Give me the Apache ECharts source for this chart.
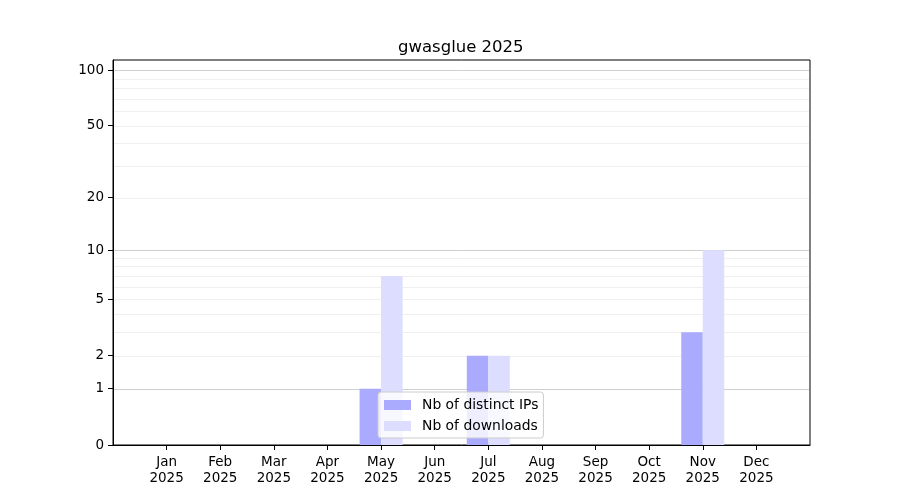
<!DOCTYPE html>
<html>
<head>
<meta charset="UTF-8">
<title>gwasglue 2025</title>
<script src="https://cdn.jsdelivr.net/npm/echarts@6/dist/echarts.min.js"></script>
<style>
  html, body { margin: 0; padding: 0; background: #fff; }
  #main { width: 900px; height: 500px; }
</style>
</head>
<body>
<div id="main"></div>
<script>
// data
var months = ['Jan', 'Feb', 'Mar', 'Apr', 'May', 'Jun', 'Jul', 'Aug', 'Sep', 'Oct', 'Nov', 'Dec'];
var year = '2025';
var distinctIPs = [0, 0, 0, 0, 1, 0, 2, 0, 0, 0, 3, 0];
var downloads = [0, 0, 0, 0, 7, 0, 2, 0, 0, 0, 10, 0];
var yTickLabels = [0, 1, 2, 5, 10, 20, 50, 100];
var majorGrid = [1, 10, 100];
var minorGrid = [2, 3, 4, 5, 6, 7, 8, 9, 20, 30, 40, 50, 60, 70, 80, 90];

// y axis is log10(1 + n), like the original plot
function fwd(v) { return Math.log10(1 + v); }
function inv(t) { return Math.pow(10, t) - 1; }

// pad one empty slot on each side so the months sit one step in from the frame
var cats = [''].concat(months).concat(['']);
function pad(arr) {
  return [null].concat(arr.map(function (v) { return fwd(v); })).concat([null]);
}

// horizontal grid lines: [x index, y value, major flag]
var gridData = majorGrid.map(function (v) { return [0, fwd(v), 1]; })
  .concat(minorGrid.map(function (v) { return [0, fwd(v), 0]; }));

function renderGrid(params, api) {
  var cs = params.coordSys;
  var y = Math.round(api.coord([0, api.value(1)])[1]) + 0.5;
  return {
    type: 'line',
    shape: { x1: cs.x + 1, y1: y, x2: cs.x + cs.width - 1, y2: y },
    style: { stroke: api.value(2) ? '#cfcfcf' : '#efefef', lineWidth: 1 },
    silent: true
  };
}

var font = 'DejaVu Sans';
var myChart = echarts.init(document.getElementById('main'));

var option = {
  animation: false,
  backgroundColor: '#fff',
  textStyle: { fontFamily: font },
  title: {
    text: 'gwasglue 2025',
    left: 393,
    top: 34,
    textStyle: { fontFamily: font, fontSize: 16.5, fontWeight: 'normal', color: '#000' }
  },
  grid: {
    left: 113, right: 90, top: 60, bottom: 55,
    show: true, borderColor: '#000', borderWidth: 1, backgroundColor: 'transparent'
  },
  legend: {
    data: ['Nb of distinct IPs', 'Nb of downloads'],
    orient: 'vertical',
    left: 378,
    top: 392,
    itemWidth: 27,
    itemHeight: 10,
    itemGap: 7,
    padding: [6, 5, 5, 6],
    backgroundColor: 'rgba(255,255,255,0.8)',
    borderColor: '#cccccc',
    borderWidth: 1,
    borderRadius: 3,
    icon: 'rect',
    textStyle: { fontFamily: font, fontSize: 13.9, color: '#000', padding: [0, 0, 0, 6] }
  },
  xAxis: {
    type: 'category',
    data: cats,
    boundaryGap: false,
    axisLine: { lineStyle: { color: '#000', width: 1 } },
    axisTick: {
      length: 5,
      lineStyle: { color: '#000' },
      interval: function (i, v) { return v !== ''; }
    },
    axisLabel: {
      interval: function (i, v) { return v !== ''; },
      formatter: function (v) { return v + '\n' + year; },
      color: '#000',
      fontFamily: font,
      fontSize: 13.5,
      lineHeight: 16,
      margin: 9
    },
    splitLine: { show: false }
  },
  yAxis: {
    type: 'value',
    min: 0,
    max: 2.058,
    axisLine: { show: true, lineStyle: { color: '#000', width: 1 } },
    axisTick: {
      show: true,
      length: 5,
      lineStyle: { color: '#000' },
      customValues: yTickLabels.map(fwd)
    },
    axisLabel: {
      customValues: yTickLabels.map(fwd),
      formatter: function (t) { return String(Math.round(inv(t))); },
      color: '#000',
      fontFamily: font,
      fontSize: 13.5,
      margin: 9
    },
    splitLine: { show: false }
  },
  series: [
    {
      name: 'grid',
      type: 'custom',
      data: gridData,
      encode: { x: 0, y: 1 },
      renderItem: renderGrid,
      z: 0,
      silent: true
    },
    {
      name: 'Nb of distinct IPs',
      type: 'bar',
      data: pad(distinctIPs),
      barWidth: 21.5,
      barGap: '0%',
      z: 2,
      itemStyle: { color: '#aaaaff' }
    },
    {
      name: 'Nb of downloads',
      type: 'bar',
      data: pad(downloads),
      barWidth: 21.5,
      barGap: '0%',
      z: 2,
      itemStyle: { color: '#ddddff' }
    }
  ]
};

myChart.setOption(option);
</script>
</body>
</html>
